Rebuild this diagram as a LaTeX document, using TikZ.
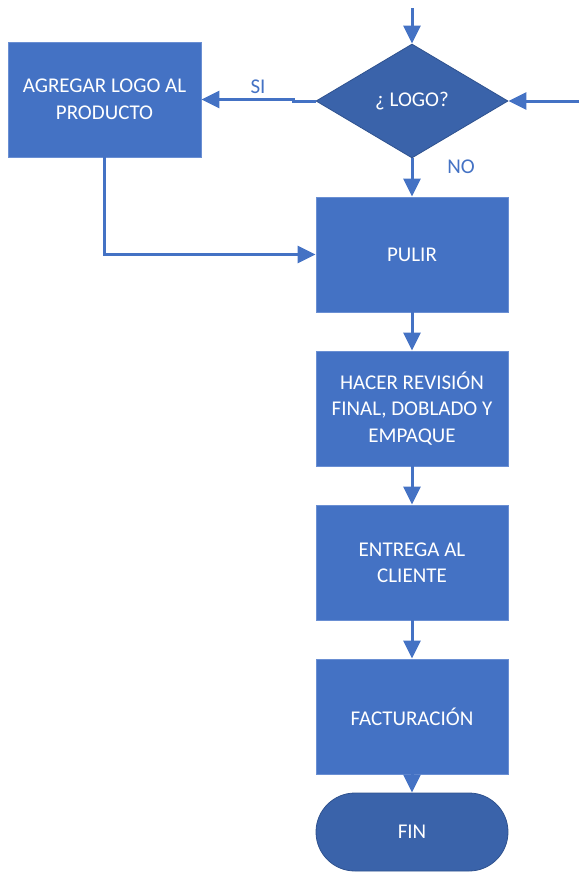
\documentclass[tikz,border=0pt]{standalone}
\usepackage{fontspec}
\setmainfont{Carlito}
\usetikzlibrary{shapes.geometric,arrows.meta}
\definecolor{boxblue}{HTML}{4472C4}
\definecolor{boxedge}{HTML}{6A8FD3}
\definecolor{darkblue}{HTML}{3A63AA}
\definecolor{darkedge}{HTML}{2F528F}
\tikzset{
  txt/.style={text=white, align=center, font=\fontsize{21}{26.5}\selectfont},
  stepbox/.style={rectangle, fill=boxblue, draw=boxedge, line width=0.8pt,
    minimum width=192pt, minimum height=115pt, inner sep=0pt, txt},
  decbox/.style={diamond, fill=darkblue, draw=darkedge, line width=0.8pt,
    minimum width=192pt, minimum height=114pt, inner sep=0pt, txt},
  endbox/.style={rectangle, rounded corners=39pt, fill=darkblue, draw=darkedge, line width=0.8pt,
    minimum width=192pt, minimum height=78pt, inner sep=0pt, txt},
  conn/.style={draw=boxblue, line width=3pt, -{Triangle[length=18pt,width=17pt]}},
  lbl/.style={text=boxblue, font=\fontsize{21}{24}\selectfont}
}
\begin{document}
\begin{tikzpicture}[x=1pt,y=-1pt]
\useasboundingbox (0,0) rectangle (579,873);
\coordinate (topin) at (412,8);
\coordinate (rightin) at (579,101);
\node[decbox] (logo) at (412,101) {¿ LOGO?};
\node[stepbox, minimum width=193pt] (agregar) at (104.5,99.5) {AGREGAR LOGO AL\\PRODUCTO};
\node[stepbox] (pulir) at (412,254.5) {PULIR};
\node[stepbox] (hacer) at (412,408.5) {HACER REVISIÓN\\FINAL, DOBLADO Y\\EMPAQUE};
\node[stepbox] (entrega) at (412,562.5) {ENTREGA AL\\CLIENTE};
\node[stepbox] (fact) at (412,716.5) {FACTURACIÓN};
\node[endbox] (fin) at (412,832) {FIN};
\node[lbl] (si) at (258,87) {SI};
\node[lbl] (no) at (461,167) {NO};
\draw[conn] (topin) -- (logo.north);
\draw[conn] (rightin) -- (logo.east);
\draw[conn] (logo.west) -- ++(-22,0) |- (agregar.east);
\draw[conn] (logo.south) -- (pulir.north);
\draw[conn] (agregar.south) |- (pulir.west);
\draw[conn] (pulir.south) -- (hacer.north);
\draw[conn] (hacer.south) -- (entrega.north);
\draw[conn] (entrega.south) -- (fact.north);
\draw[conn] (fact.south) -- (fin.north);
\end{tikzpicture}
\end{document}
